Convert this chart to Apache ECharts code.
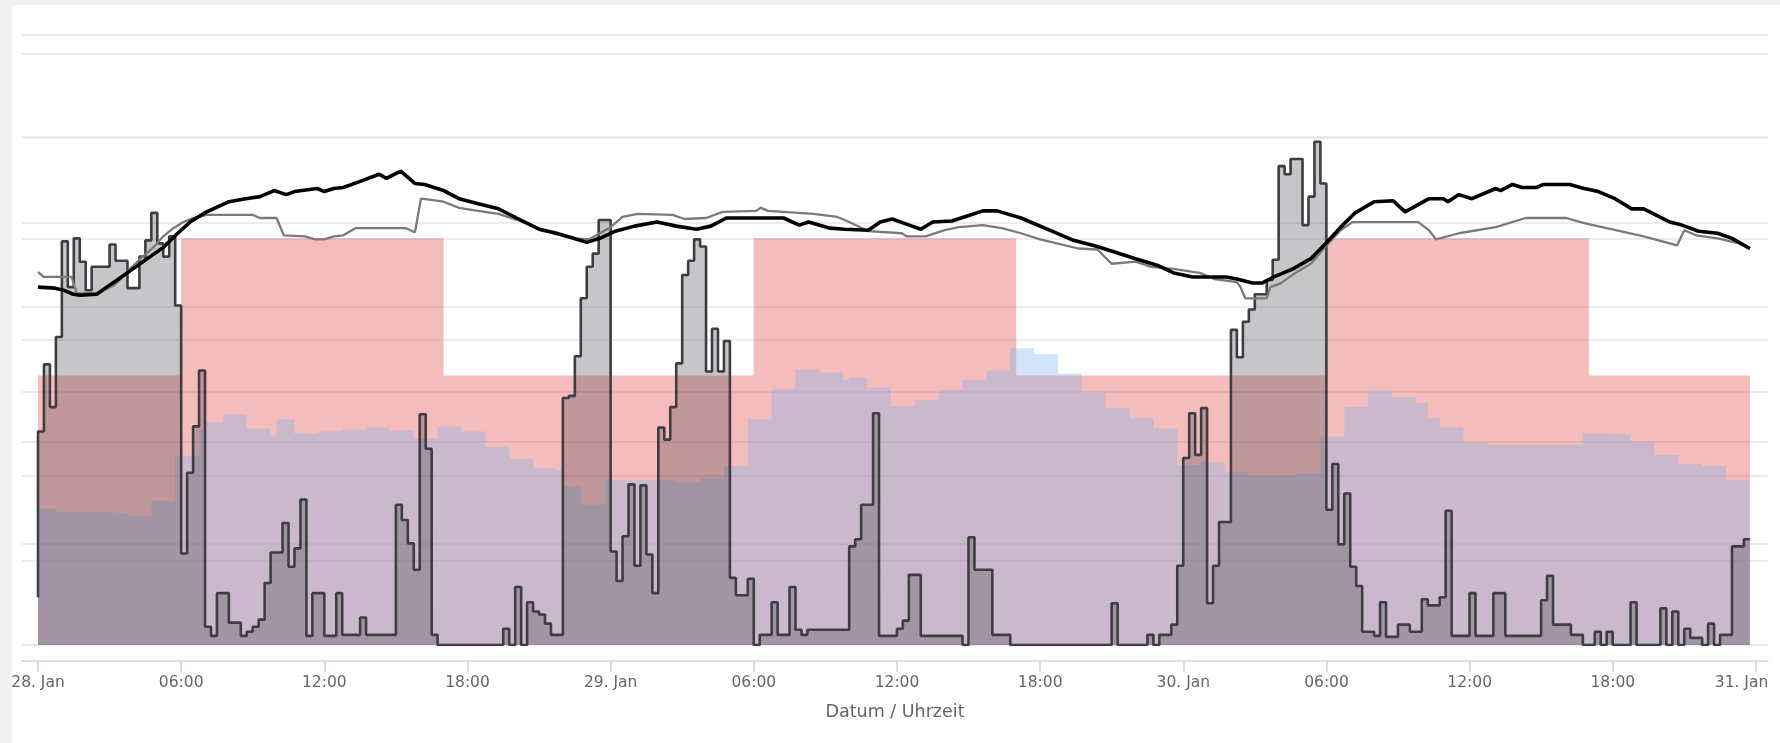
<!DOCTYPE html>
<html>
<head>
<meta charset="utf-8">
<script src="https://cdn.jsdelivr.net/npm/echarts@6/dist/echarts.min.js"></script>
<style>
html,body{margin:0;padding:0;width:1780px;height:743px;background:#f1f1f1;overflow:hidden;}
#chart{position:absolute;left:12px;top:5px;width:1768px;height:738px;background:#fff;}
</style>
</head>
<body>
<div id="chart"></div>
<script>
// x values are hours since 28. Jan 00:00
const tickHours = [0,6,12,18,24,30,36,42,48,54,60,66,72];
const tickLabels = ['28. Jan','06:00','12:00','18:00','29. Jan','06:00','12:00','18:00','30. Jan','06:00','12:00','18:00','31. Jan'];

// tariff / setpoint band (step, value holds from time to next time)
const pinkTimes  = [0, 6, 17, 30, 41, 54, 65, 71.75];
const pinkValues = [26.5, 40, 26.5, 40, 26.5, 40, 26.5, 26.5];

// hourly blue series
const blueTimes = [0,0.75,2.75,3.75,4.75,5.75,6.75,7,7.75,8.75,9.75,10,10.75,11.75,12.75,13.75,14.75,15.75,16.75,17.75,18.75,19.75,20.75,21.75,22,22.75,23.75,26.75,27.75,28.75,29.75,30.75,31.75,32.75,33.75,34,34.75,35.75,36.75,37.75,38.75,39.75,40.75,41.75,42.75,43.75,44.75,45.75,46.75,47.75,48.75,49.75,50.75,51.75,52.75,53.75,54.75,55.75,56.75,57.75,58.25,58.75,59.75,60.75,61.75,62.75,63.75,64.75,65.75,66.75,67.75,68.75,69.75,70.75,71.75];
const blueValues = [13.4,13.1,12.95,12.7,14.2,18.6,21.3,21.9,22.7,21.3,20.6,22.2,20.8,21.0,21.2,21.4,21.1,20.3,21.5,21.0,19.5,18.3,17.4,17.2,15.6,13.8,16.2,16.0,16.4,17.6,22.2,25.2,27.1,26.8,26.1,26.3,25.3,23.5,24.1,25.1,26.1,27.0,29.2,28.6,26.7,24.8,23.3,22.3,21.3,17.7,18.0,17.0,16.6,16.7,16.9,20.5,23.4,25.0,24.4,23.8,22.3,21.4,19.9,19.7,19.7,19.7,19.7,20.8,20.7,20.0,18.7,17.8,17.6,16.2,16.2];

// 15-minute step series (dark grey)
const stepTimes = [0,0,0.25,0.5,0.75,1,1.25,1.5,1.75,2,2.25,3,3.25,3.75,4.25,4.5,4.75,5,5.25,5.5,5.75,6,6.25,6.5,6.75,7,7.25,7.5,8,8.5,8.75,9,9.25,9.5,9.75,10.25,10.5,10.75,11,11.25,11.5,12,12.5,12.75,13.5,13.75,15,15.25,15.5,15.75,16,16.25,16.5,16.75,19.5,19.75,20,20.25,20.5,20.75,21,21.25,21.5,22,22.25,22.5,22.75,23,23.25,23.5,24,24.25,24.5,24.75,25,25.25,25.5,25.75,26,26.25,26.5,26.75,27,27.25,27.5,27.75,28,28.25,28.5,28.75,29,29.25,29.75,30,30.25,30.75,31,31.5,31.75,32,32.25,34,34.25,34.5,35,35.25,36,36.25,36.5,37,38.75,39,39.25,40,40.75,45,45.25,46.5,46.75,47,47.5,47.75,48,48.25,48.5,48.75,49,49.25,49.5,50,50.25,50.5,50.75,51,51.5,51.75,52,52.25,52.5,53,53.25,53.5,53.75,54,54.25,54.5,54.75,55,55.25,55.5,56,56.25,56.5,57,57.5,58,58.25,58.75,59,59.25,60,60.25,61,61.5,63,63.25,63.5,64.25,64.75,65.25,65.5,65.75,66,66.75,67,68,68.25,68.5,68.75,69,69.25,69.75,70,70.25,70.5,71,71.5,71.75];
const stepValues = [4.7,21.0,27.6,23.4,30.3,39.7,35.2,40.0,37.7,34.9,37.2,39.4,37.8,35.1,38.2,39.8,42.5,39.5,38.2,40.2,33.4,9.0,16.95,21.5,27.0,1.8,0.9,5.1,2.2,0.9,1.3,1.8,2.5,6.1,9.1,12.0,7.7,9.5,14.3,0.9,5.1,0.9,5.1,1.0,2.7,1.0,13.8,12.3,10.0,7.4,22.7,19.3,1.0,0,1.6,0,5.7,0,4.2,3.3,3.0,2.1,1.0,24.3,24.5,28.4,34.1,37.2,38.5,41.8,9.2,6.3,10.7,15.8,7.8,15.7,8.9,5.1,21.4,20.2,23.4,27.7,36.4,37.8,39.9,39.2,26.9,31.1,26.9,29.9,6.6,4.9,6.5,0,1.0,4.2,1.0,5.7,1.5,1.0,1.5,9.7,10.4,13.8,22.8,0.9,1.6,2.4,6.9,0.9,0,10.6,7.4,1.0,0,4.1,0,1.0,0,1.0,2.0,7.8,18.4,22.8,18.7,23.3,4.1,7.8,12.1,31.0,28.3,31.8,33.0,34.5,35.9,37.9,47.1,46.3,47.8,41.3,44.1,49.5,45.4,13.3,17.8,9.9,14.9,7.7,5.8,1.3,0.9,4.2,0.8,2.0,1.3,4.5,3.9,4.7,13.2,0.9,5.1,0.9,5.1,0.9,4.4,6.8,2.0,1.0,0,1.3,0,1.3,0,4.2,0,3.6,0,3.3,0,1.6,0.7,0,2.1,0,1.0,9.7,10.4,10.4];

// thick black line
const blackTimes = [0,0.72,1.07,1.48,1.76,2.46,2.88,3.44,3.86,4.28,4.7,5.25,5.81,6.37,7.07,8.0,8.7,9.3,9.9,10.4,10.75,11.7,12.0,12.4,12.8,13.5,14.3,14.6,15.2,15.8,16.2,17.0,17.65,18.45,19.3,20.06,21.0,21.7,22.3,23.0,23.4,23.55,24.2,25.0,25.95,26.75,27.6,28.2,28.85,31.25,31.9,32.3,33.2,33.8,34.8,35.3,35.8,36.4,37.0,37.5,38.3,38.95,39.6,40.2,41.2,42.5,43.4,44.4,46.0,46.97,47.6,48.4,49.8,50.25,50.9,51.3,51.8,52.6,53.35,53.97,54.6,55.2,56.0,56.8,57.3,58.3,58.9,59.1,59.55,60.1,61.1,61.3,61.8,62.2,62.8,63.1,64.2,64.8,65.4,66.1,66.8,67.3,68.4,68.9,69.6,70.4,71.0,71.75];
const blackValues = [35.2,35.1,34.9,34.5,34.4,34.5,35.2,36.1,36.8,37.5,38.2,39.1,40.4,41.6,42.6,43.6,43.9,44.1,44.7,44.3,44.6,44.9,44.6,44.9,45.0,45.6,46.3,45.9,46.6,45.4,45.3,44.7,43.9,43.4,42.9,42.0,40.9,40.5,40.1,39.6,39.9,40.0,40.7,41.2,41.6,41.2,40.9,41.2,42.0,42.0,41.3,41.6,41.0,40.9,40.8,41.6,41.9,41.4,40.9,41.6,41.7,42.2,42.7,42.7,42.0,40.7,39.8,39.2,38.0,37.3,36.6,36.2,36.2,36.0,35.6,35.6,36.2,37.0,38.0,39.5,41.1,42.5,43.6,43.7,42.6,43.9,43.9,43.6,44.3,43.9,44.9,44.7,45.3,45.0,45.0,45.3,45.3,44.9,44.6,43.9,42.9,42.9,41.6,41.3,40.7,40.5,40.0,39.0];

// thin grey line
const greyTimes = [0,0.23,1.41,1.62,2.5,3.2,3.86,4.3,4.84,5.25,5.67,6.1,6.5,7.07,9.0,9.3,10.0,10.3,11.2,11.6,12.0,12.4,12.8,13.3,15.4,15.8,16.05,16.4,17.0,17.65,18.45,19.3,20.1,20.9,21.7,22.5,23.1,23.4,24.0,24.5,25.15,26.6,27.1,28.0,28.7,30.1,30.3,30.6,31.25,32.5,33.5,34.0,34.8,36.2,36.4,37.2,38.0,38.6,39.6,40.4,41.2,42.0,43.6,44.4,45.0,46.0,46.65,47.6,48.4,48.7,49.3,50.25,50.4,50.6,51.5,51.65,52.1,52.7,53.35,53.97,54.6,55.1,57.85,58.3,58.6,59.55,61.1,62.35,64.05,64.8,65.75,67.3,68.7,69.0,69.5,70.4,71.3,71.75];
const greyValues = [36.7,36.2,36.2,34.6,34.6,35.4,37.0,38.0,39.1,40.2,41.0,41.6,42.0,42.3,42.3,42.0,42.0,40.3,40.2,39.9,39.9,40.2,40.3,41.0,41.0,40.6,43.9,43.8,43.6,43.0,42.7,42.4,41.8,41.0,40.6,40.0,39.9,40.3,41.1,42.1,42.4,42.3,41.9,42.0,42.6,42.7,43.0,42.7,42.6,42.4,42.1,41.6,40.7,40.5,40.2,40.2,40.8,41.1,41.3,41.0,40.5,39.9,39.0,38.9,37.5,37.7,37.2,37.0,36.7,36.6,36.0,35.7,35.2,34.1,34.1,35.2,35.6,36.6,37.5,39.2,40.8,41.6,41.6,40.8,39.9,40.5,41.1,42.0,42.0,41.5,41.0,40.2,39.3,40.8,40.3,40.0,39.5,39.0];

const zip = (a, b) => a.map((t, i) => [t, b[i]]);
const FONT = 'DejaVu Sans';

const chart = echarts.init(document.getElementById('chart'), null, {renderer: 'canvas'});
chart.setOption({
  animation: false,
  backgroundColor: '#ffffff',
  grid: [
    {left: 10, right: 12, top: 30, bottom: 98, containLabel: false, outerBoundsMode: 'none'},
    {left: 26, right: 24, top: 30, bottom: 98, containLabel: false, outerBoundsMode: 'none'}
  ],
  xAxis: [
    {type: 'value', gridIndex: 0, min: -0.6706, max: 72.51, offset: 16,
     axisLine: {show: true, onZero: false, lineStyle: {color: '#ccd6eb', width: 1.5}},
     axisTick: {show: false}, axisLabel: {show: false}, splitLine: {show: false},
     name: 'Datum / Uhrzeit', nameLocation: 'middle', nameGap: 42,
     nameTextStyle: {color: '#666666', fontSize: 17.5, fontFamily: FONT}},
    {type: 'value', gridIndex: 1, min: 0, max: 72, interval: 6, offset: 16,
     axisLine: {show: false, onZero: false},
     axisTick: {show: true, length: 11, lineStyle: {color: '#ccd6eb', width: 1.5}},
     splitLine: {show: false},
     axisLabel: {margin: 14, color: '#666666', fontSize: 15.5, fontFamily: FONT,
       formatter: v => {
         const i = tickHours.indexOf(v);
         if (i < 0) return '';
         return i === tickHours.length - 1 ? '{last|' + tickLabels[i] + '}' : tickLabels[i];
       },
       rich: {last: {color: '#666666', fontSize: 15.5, fontFamily: FONT, padding: [0, 29, 0, 0]}}}}
  ],
  yAxis: [
    {type: 'value', gridIndex: 0, min: 0, max: 60, interval: 10,
     axisLine: {show: false}, axisTick: {show: false}, axisLabel: {show: false},
     splitLine: {show: true, lineStyle: {color: '#e6e6e6', width: 1.5}}},
    {type: 'value', gridIndex: 0, min: 0, max: 72.19, interval: 10, position: 'right',
     axisLine: {show: false}, axisTick: {show: false}, axisLabel: {show: false},
     splitLine: {show: true, lineStyle: {color: '#e6e6e6', width: 1.5}}},
    {type: 'value', gridIndex: 1, min: 0, max: 60, show: false}
  ],
  series: [
    {type: 'line', xAxisIndex: 0, yAxisIndex: 0, step: 'end', symbol: 'none', silent: true,
     data: zip(pinkTimes, pinkValues), lineStyle: {opacity: 0, width: 0},
     areaStyle: {color: 'rgba(226,62,62,0.35)', opacity: 1}, z: 1},
    {type: 'line', xAxisIndex: 0, yAxisIndex: 0, step: 'end', symbol: 'none', silent: true,
     data: zip(blueTimes, blueValues), lineStyle: {opacity: 0, width: 0},
     areaStyle: {color: 'rgba(124,181,236,0.35)', opacity: 1}, z: 2},
    {type: 'line', xAxisIndex: 0, yAxisIndex: 0, step: 'end', symbol: 'none', silent: true,
     data: zip(stepTimes, stepValues), lineStyle: {color: '#3d3d42', width: 2.6},
     areaStyle: {color: 'rgba(67,67,72,0.3)', opacity: 1}, z: 3},
    {type: 'line', xAxisIndex: 0, yAxisIndex: 0, symbol: 'none', silent: true,
     data: zip(greyTimes, greyValues), lineStyle: {color: '#7a7a7a', width: 2.3}, z: 4},
    {type: 'line', xAxisIndex: 0, yAxisIndex: 0, symbol: 'none', silent: true,
     data: zip(blackTimes, blackValues), lineStyle: {color: '#000000', width: 3.6}, z: 5}
  ]
});
</script>
</body>
</html>
